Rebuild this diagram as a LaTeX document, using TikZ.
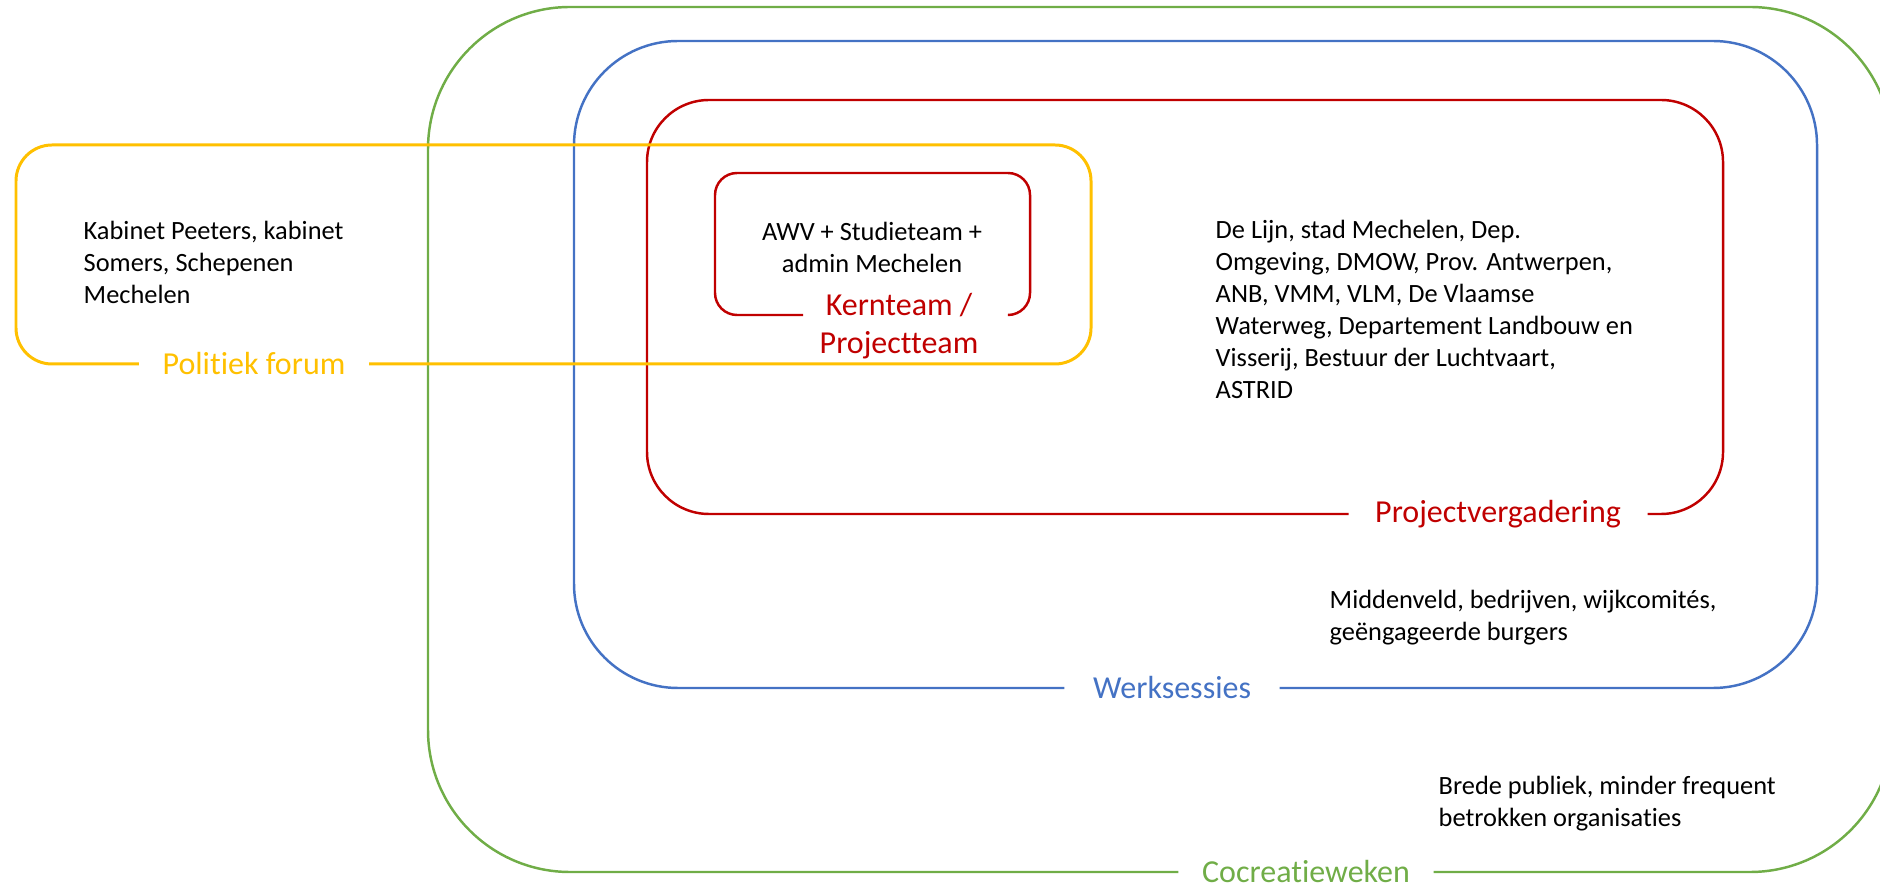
\documentclass[tikz,border=0pt]{standalone}
\usepackage{fontspec}
\setmainfont{Carlito}[Ligatures={NoCommon}]
\usepackage{tikz}
\usetikzlibrary{
  positioning
}
\definecolor{kgreen}{HTML}{70AD47}
\definecolor{kblue}{HTML}{4472C4}
\definecolor{kred}{HTML}{C00000}
\definecolor{kyellow}{HTML}{FFC000}

\begin{document}
\begin{tikzpicture}[
      x=0.01cm, y=-0.01cm,
      members/.style={
         align=left,
         anchor=west,
         inner sep=0pt,
         font=\fontsize{7.5}{9.1}\selectfont
      },
      grouplabel/.style={
         inner ysep=0pt,
         inner xsep=0.22cm,
         font=\fontsize{9.1}{10.8}\selectfont
      },
      groupline/.style={
         line width=0.7pt
      },
    ]
    \clip (0,0) rectangle (1880,883);
    \useasboundingbox (0,0) rectangle (1880,883);
    % labels in the gaps of the frames
    \node (cw) [grouplabel, text=kgreen, inner xsep=0.23cm] at (1306,872) {Cocreatieweken};
    \node (ws) [grouplabel, text=kblue, inner xsep=0.28cm] at (1172,688) {Werksessies};
    \node (pv) [grouplabel, text=kred, inner xsep=0.26cm] at (1498,514) {Projectvergadering};
    \node (kt) [grouplabel, text=kred, align=center, inner xsep=0.2cm] at (899,326) {Kernteam /\\Projectteam};
    \node (pf) [grouplabel, text=kyellow, inner xsep=0.23cm] at (254,364) {Politiek forum};
    % member texts
    \node (kab) [members] at (83,262) {Kabinet Peeters, kabinet\\Somers, Schepenen\\Mechelen};
    \node (awv) [members, anchor=center, align=center] at (872,247) {AWV + Studieteam +\\admin Mechelen};
    \node (lijn) [members] at (1215,309) {De Lijn, stad Mechelen, Dep.\\Omgeving, DMOW, Prov. Antwerpen,\\ANB, VMM, VLM, De Vlaamse\\Waterweg, Departement Landbouw en\\Visserij, Bestuur der Luchtvaart,\\ASTRID};
    \node (mid) [members] at (1329,618) {Middenveld, bedrijven, wijkcomités,\\geëngageerde burgers};
    \node (brede) [members] at (1438,804) {Brede publiek, minder frequent\\betrokken organisaties};
    % frames
    \coordinate (kt-l) at (803,315);
    \coordinate (kt-r) at (1008,315);
    \draw[groupline, kgreen, rounded corners=1.42cm]
       (cw.east) -- (1892,872) -- (1892,7) -- (428,7) -- (428,872) -- (cw.west);
    \draw[groupline, kblue, rounded corners=1.04cm]
       (ws.east) -- (1817,688) -- (1817,41) -- (574,41) -- (574,688) -- (ws.west);
    \draw[groupline, kred, rounded corners=0.62cm]
       (pv.east) -- (1723,514) -- (1723,100) -- (647,100) -- (647,514) -- (pv.west);
    \draw[groupline, kred, rounded corners=0.22cm]
       (kt-l) -- (715,315) -- (715,173) -- (1030,173) -- (1030,315) -- (kt-r);
    \draw[kyellow, line width=0.85pt, rounded corners=0.36cm]
       (pf.east) -- (1091,364) -- (1091,145) -- (16,145) -- (16,364) -- (pf.west);
\end{tikzpicture}
\end{document}
